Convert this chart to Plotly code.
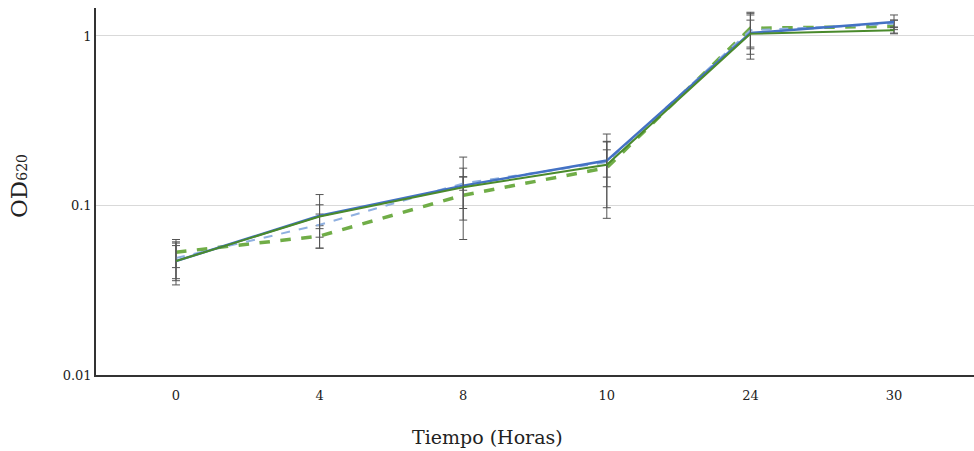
import plotly.graph_objects as go

hours = ["0", "4", "8", "10", "24", "30"]

# Four series (OD620)
dark_green = [0.047, 0.086, 0.128, 0.174, 1.03, 1.08]
blue = [0.047, 0.087, 0.131, 0.184, 1.04, 1.21]
light_blue = [0.049, 0.077, 0.135, 0.180, 1.08, 1.18]
green_dash = [0.053, 0.066, 0.115, 0.167, 1.11, 1.14]

err_dark_green = [0.011, 0.030, 0.065, 0.090, 0.30, 0.05]
err_blue = [0.013, 0.014, 0.035, 0.055, 0.20, 0.12]
err_light_blue = [0.012, 0.012, 0.012, 0.033, 0.30, 0.06]
err_green_dash = [0.010, 0.010, 0.033, 0.070, 0.25, 0.10]

FONT = "DejaVu Serif"
ERRC = "#555555"

def err(arr):
    return dict(type="data", array=arr, symmetric=True, color=ERRC,
                thickness=1, width=4)

fig = go.Figure()
fig.add_trace(go.Scatter(x=hours, y=green_dash, mode="lines",
                         line=dict(color="#70ad47", width=3.5, dash="dash"),
                         error_y=err(err_green_dash), showlegend=False))
fig.add_trace(go.Scatter(x=hours, y=light_blue, mode="lines",
                         line=dict(color="#8fb0e0", width=2, dash="dash"),
                         error_y=err(err_light_blue), showlegend=False))
fig.add_trace(go.Scatter(x=hours, y=blue, mode="lines",
                         line=dict(color="#4472c4", width=2.5),
                         error_y=err(err_blue), showlegend=False))
fig.add_trace(go.Scatter(x=hours, y=dark_green, mode="lines",
                         line=dict(color="#4a8a2c", width=2),
                         error_y=err(err_dark_green), showlegend=False))

fig.update_layout(
    width=974, height=451,
    margin=dict(l=96, r=0, t=8, b=76),
    plot_bgcolor="white", paper_bgcolor="white",
    font=dict(family=FONT, color="#222222", size=13),
    xaxis=dict(
        type="category", range=[-0.557, 5.557],
        showgrid=False, showline=True, linecolor="#333333", linewidth=1.5,
        ticks="", ticklabelstandoff=8, tickfont=dict(size=13, family=FONT),
    ),
    yaxis=dict(
        type="log", range=[-2, 0.165],
        tickvals=[0.01, 0.1, 1], ticktext=["0.01", "0.1", "1"],
        showgrid=True, gridcolor="#d9d9d9", gridwidth=1,
        showline=True, linecolor="#333333", linewidth=1.5,
        zeroline=False, ticks="", ticklen=4,
        tickfont=dict(size=13, family=FONT),
    ),
    annotations=[
        dict(text="Tiempo (Horas)", xref="paper", yref="paper",
             x=(487 - 96) / 878, y=-(437 - 375) / 367,
             xanchor="center", yanchor="middle", showarrow=False,
             font=dict(size=19, family=FONT, color="#222222")),
        dict(text="OD<span style='font-size:14px'>620</span>",
             xref="paper", yref="paper",
             x=-(96 - 19) / 878, y=(375 - 186) / 367,
             xanchor="center", yanchor="middle", textangle=-90,
             showarrow=False,
             font=dict(size=23, family=FONT, color="#222222")),
    ],
)

fig.write_html("out.html")
